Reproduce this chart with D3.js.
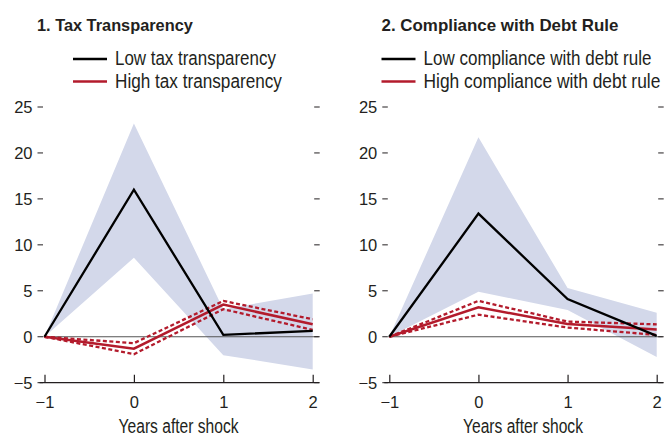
<!DOCTYPE html>
<html>
<head>
<meta charset="utf-8">
<script src="https://cdn.jsdelivr.net/npm/d3@7"></script>
<style>
  html, body { margin: 0; padding: 0; background: #fff; }
  svg { display: block; }
  text { font-family: "Liberation Sans", Arial, sans-serif; fill: #231f20; }
</style>
</head>
<body>
<svg id="chart"></svg>
<script>
// Shared data
const years = [-1, 0, 1, 2];
const yTicks = [-5, 0, 5, 10, 15, 20, 25];

// Panel 1: tax transparency
const taxLow = [0, 16.0, 0.2, 0.65];
const taxLowUpper = [0, 23.2, 3.0, 4.7];
const taxLowLower = [0, 8.6, -2.0, -3.55];
const taxHigh = [0, -1.3, 3.5, 1.35];
const taxHighUpper = [0, -0.7, 3.9, 1.9];
const taxHighLower = [0, -1.9, 3.0, 0.75];

// Panel 2: compliance with debt rule
const debtLow = [0, 13.4, 4.1, 0.1];
const debtLowUpper = [0, 21.7, 5.3, 2.6];
const debtLowLower = [0, 4.9, 2.9, -2.2];
const debtHigh = [0, 3.2, 1.4, 0.8];
const debtHighUpper = [0, 3.9, 1.65, 1.35];
const debtHighLower = [0, 2.4, 1.0, 0.2];

const RED = "#b31b2c";
const BAND = "#d3d8ea";

const svgWidth = 667;
const svgHeight = 437;

const svg = d3.select("#chart").attr("width", svgWidth).attr("height", svgHeight);

// squeeze a text horizontally to a target width (reference uses a condensed face)
function condensed(g, x, y, txt, size, w, bold) {
  const t = g.append("text")
    .style("font-size", size + "px")
    .style("font-weight", bold ? "bold" : null)
    .text(txt);
  const k = w / t.node().getComputedTextLength();
  t.attr("transform", `translate(${x},${y}) scale(${k},1)`);
  return t;
}

const minus = (d) => (d < 0 ? "\u2212" + Math.abs(d) : d);

const panels = [
  {
    title: "1. Tax Transparency", titleW: 156,
    lowLabel: "Low tax transparency", lowW: 161,
    highLabel: "High tax transparency", highW: 167,
    low: taxLow, lowUpper: taxLowUpper, lowLower: taxLowLower,
    high: taxHigh, highUpper: taxHighUpper, highLower: taxHighLower,
    x0: 44.5, x1: 312.7, titleX: 37, legendX: 73
  },
  {
    title: "2. Compliance with Debt Rule", titleW: 237,
    lowLabel: "Low compliance with debt rule", lowW: 228,
    highLabel: "High compliance with debt rule", highW: 237,
    low: debtLow, lowUpper: debtLowUpper, lowLower: debtLowLower,
    high: debtHigh, highUpper: debtHighUpper, highLower: debtHighLower,
    x0: 389.3, x1: 656.7, titleX: 381.5, legendX: 381.5
  }
];

const y = d3.scaleLinear().domain([-5, 25]).range([382.7, 107]);

panels.forEach((p) => {
  const x = d3.scaleLinear().domain([-1, 2]).range([p.x0, p.x1]);
  const g = svg.append("g");

  // Title
  condensed(g, p.titleX, 31, p.title, 16.5, p.titleW, true);

  // Legend
  const legend = [
    { label: p.lowLabel, w: p.lowW, color: "#000", y: 59 },
    { label: p.highLabel, w: p.highW, color: RED, y: 81.5 }
  ];
  legend.forEach((d) => {
    g.append("line")
      .attr("x1", p.legendX).attr("x2", p.legendX + 34)
      .attr("y1", d.y).attr("y2", d.y)
      .attr("stroke", d.color).attr("stroke-width", 2.5);
    condensed(g, p.legendX + 42, d.y + 6.3, d.label, 19.5, d.w, false);
  });

  // Confidence band
  const area = d3.area()
    .x((d, i) => x(years[i]))
    .y0((d, i) => y(p.lowLower[i]))
    .y1((d, i) => y(p.lowUpper[i]));
  g.append("path").datum(years).attr("d", area).attr("fill", BAND);

  // Zero line
  g.append("line")
    .attr("x1", p.x0 - 1).attr("x2", p.x1 + 6)
    .attr("y1", y(0)).attr("y2", y(0))
    .attr("stroke", "#555").attr("stroke-width", 1);

  // Y axis ticks and labels (left and right)
  yTicks.forEach((t) => {
    g.append("line")
      .attr("x1", p.x0 - 7).attr("x2", p.x0 - 1.5)
      .attr("y1", y(t)).attr("y2", y(t))
      .attr("stroke", "#231f20").attr("stroke-width", 1);
    g.append("line")
      .attr("x1", p.x1 + 1.5).attr("x2", p.x1 + 7)
      .attr("y1", y(t)).attr("y2", y(t))
      .attr("stroke", "#231f20").attr("stroke-width", 1);
    g.append("text")
      .attr("x", p.x0 - 12)
      .attr("y", y(t) + 5.8)
      .attr("text-anchor", "end")
      .style("font-size", "16.5px")
      .text(minus(t));
  });

  // X axis
  const xAxis = d3.axisBottom(x)
    .tickValues(years)
    .tickSizeInner(-8)
    .tickSizeOuter(0)
    .tickPadding(14)
    .tickFormat(minus);
  const ax = g.append("g")
    .attr("transform", `translate(0,${y(-5)})`)
    .call(xAxis);
  ax.select(".domain").remove();
  ax.selectAll(".tick line").attr("stroke", "#231f20").attr("stroke-width", 1.2);
  ax.selectAll(".tick text")
    .style("font-size", "16.5px")
    .style("font-family", null)
    .attr("fill", "#231f20");
  g.append("line")
    .attr("x1", p.x0 - 5).attr("x2", p.x1 + 6.5)
    .attr("y1", y(-5)).attr("y2", y(-5))
    .attr("stroke", "#231f20").attr("stroke-width", 1.2);

  condensed(g, (p.x0 + p.x1) / 2 - 60, 433, "Years after shock", 19.5, 120, false);

  // Lines
  const line = d3.line().x((d, i) => x(years[i])).y((d) => y(d));

  [p.highUpper, p.highLower].forEach((s) => {
    g.append("path").datum(s).attr("d", line)
      .attr("fill", "none").attr("stroke", RED)
      .attr("stroke-width", 2.3).attr("stroke-dasharray", "4,2.5");
  });
  g.append("path").datum(p.high).attr("d", line)
    .attr("fill", "none").attr("stroke", RED).attr("stroke-width", 2.5);
  g.append("path").datum(p.low).attr("d", line)
    .attr("fill", "none").attr("stroke", "#000").attr("stroke-width", 2.3);
});
</script>
</body>
</html>
